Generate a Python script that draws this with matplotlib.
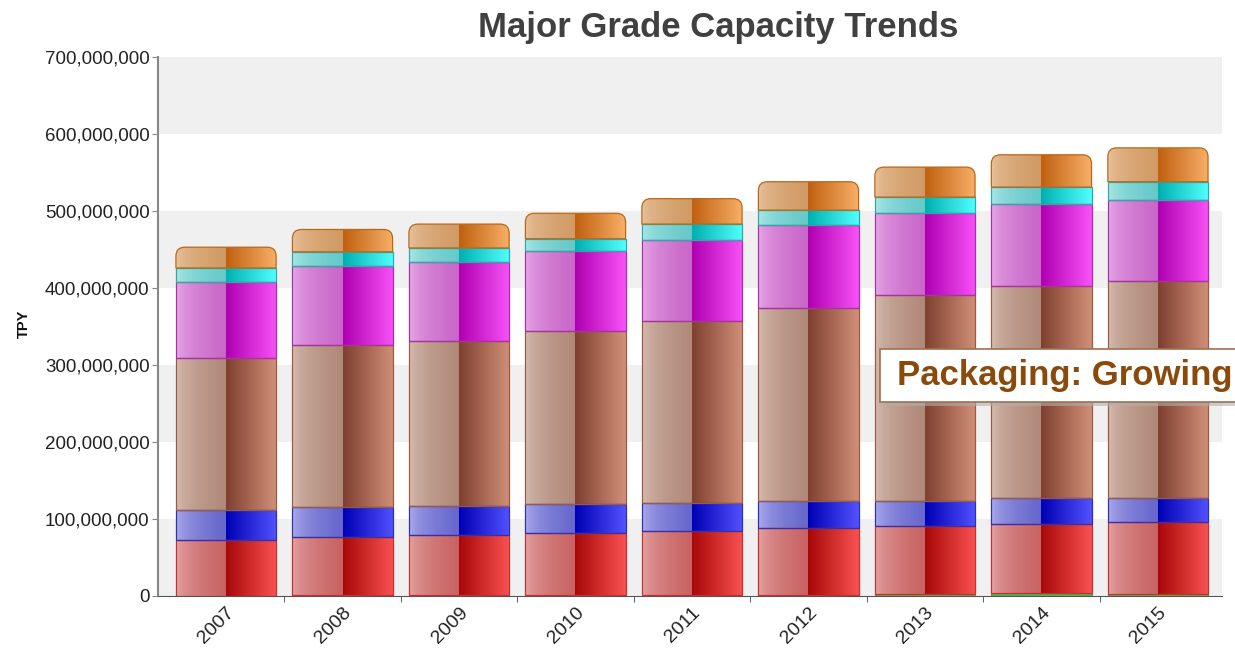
import numpy as np
import matplotlib
matplotlib.use('Agg')
import matplotlib.pyplot as plt
from matplotlib.path import Path
from matplotlib.patches import PathPatch, Rectangle
from matplotlib.colors import to_rgb
from matplotlib.ticker import FuncFormatter
import matplotlib.transforms as mtransforms

plt.rcParams['font.family'] = ['Liberation Sans', 'DejaVu Sans']

years = ['2007', '2008', '2009', '2010', '2011', '2012', '2013', '2014', '2015']

# segment sizes, millions of tons per year (bottom to top)
green = [0.5, 0.8, 0.8, 1.0, 1.0, 1.5, 2.5, 4.0, 2.5]
red = [72.5, 76.2, 78.2, 81, 83, 86.5, 88.5, 90, 93.5]
blue = [39, 39, 38, 38, 37, 35, 32, 33, 31]
brown = [197, 210, 214, 224, 236, 251, 268, 276, 282]
magenta = [99, 102, 103, 104, 105, 108, 106, 106, 105]
cyan = [18, 19, 18, 16, 21, 19, 21, 22, 24]
orange = [27, 29, 31, 33, 33, 37, 39, 42, 44]

# left edge, left middle, right middle, right edge, outline
styles = [
    ('#e8b0b0', '#c86262', '#a80808', '#fa5252', '#c83030'),
    ('#b8b8f2', '#6666cc', '#0000b4', '#5252ff', '#3030b0'),
    ('#dcc6ba', '#b08878', '#804030', '#d09078', '#9a5a44'),
    ('#ecb4ec', '#c866c8', '#b000b0', '#f852f8', '#a830a8'),
    ('#b6ecec', '#66c8c8', '#00b0b0', '#52ffff', '#30a8a8'),
    ('#ecc8a4', '#d09a64', '#c06010', '#f8b068', '#b86818'),
]
series = [red, blue, brown, magenta, cyan, orange]

fig = plt.figure(figsize=(12.35, 6.49), dpi=100)
ax = fig.add_axes([158 / 1235, 53 / 649, 1064 / 1235, 539 / 649])

M = 1e6
ax.set_xlim(-0.584, 8.55)
ax.set_ylim(0, 700 * M)

for k in range(0, 7, 2):
    ax.axhspan(k * 100 * M, (k + 1) * 100 * M, color='#f0f0f0', zorder=0, lw=0)

# pixel -> data sizes for rounded tops
p0 = ax.transData.inverted().transform((0, 0))
p1 = ax.transData.inverted().transform((9, 9))
rx, ry = p1[0] - p0[0], p1[1] - p0[1]


def grad(c0, c1, power=1.0, n=64):
    t = np.linspace(0, 1, n) ** power
    a, b = np.array(to_rgb(c0)), np.array(to_rgb(c1))
    return (a[None, :] * (1 - t[:, None]) + b[None, :] * t[:, None])[None, :, :]


w = 0.86
for i in range(len(years)):
    x0, xc, x1 = i - w / 2, i, i + w / 2
    ax.add_patch(Rectangle((x0, 0), w, green[i] * M, facecolor='#50b050',
                           edgecolor='#40a040', lw=0.8, zorder=3))
    bottom = green[i] * M
    for s, vals in enumerate(series):
        h = vals[i] * M
        top = bottom + h
        le, lm, rm, re, ec = styles[s]
        if s == len(series) - 1:
            verts = [(x0, bottom), (x1, bottom), (x1, top - ry), (x1, top),
                     (x1 - rx, top), (x0 + rx, top), (x0, top), (x0, top - ry),
                     (x0, bottom)]
            codes = [Path.MOVETO, Path.LINETO, Path.LINETO, Path.CURVE3,
                     Path.CURVE3, Path.LINETO, Path.CURVE3, Path.CURVE3,
                     Path.CLOSEPOLY]
            outline = PathPatch(Path(verts, codes), facecolor='none',
                                edgecolor=ec, lw=0.9, zorder=5)
        else:
            outline = Rectangle((x0, bottom), w, h, facecolor='none',
                                edgecolor=ec, lw=0.9, zorder=5)
        ax.add_patch(outline)
        im1 = ax.imshow(grad(le, lm, 0.45), extent=[x0, xc, bottom, top],
                        aspect='auto', interpolation='bilinear', zorder=4)
        im2 = ax.imshow(grad(rm, re, 1.0), extent=[xc, x1, bottom, top],
                        aspect='auto', interpolation='bilinear', zorder=4)
        if s == len(series) - 1:
            im1.set_clip_path(outline)
            im2.set_clip_path(outline)
        bottom = top

ax.set_xlim(-0.584, 8.55)
ax.set_ylim(0, 700 * M)

ax.yaxis.set_major_locator(plt.MultipleLocator(100 * M))
ax.yaxis.set_major_formatter(FuncFormatter(lambda v, p: f'{v:,.0f}'))
ax.tick_params(axis='y', labelsize=13.5, length=4, color='#888888',
               labelcolor='#222222', pad=2)

ax.set_xticks(range(len(years)))
ax.set_xticklabels(years, rotation=45, ha='right', va='top',
                   rotation_mode='anchor', fontsize=14, color='#222222')
shift = mtransforms.ScaledTranslation(14 / 100, -4 / 100, fig.dpi_scale_trans)
for lbl in ax.get_xticklabels():
    lbl.set_transform(lbl.get_transform() + shift)
ax.set_xticks(np.arange(0.5, 8.0, 1.0), minor=True)
ax.tick_params(axis='x', which='major', length=0, pad=6)
ax.tick_params(axis='x', which='minor', length=4, color='#444444')

for side in ['top', 'right']:
    ax.spines[side].set_visible(False)
ax.spines['left'].set_color('#888888')
ax.spines['left'].set_linewidth(1.5)
ax.spines['bottom'].set_color('#555555')

fig.text(24 / 1235, 1 - 324 / 649, 'TPY', rotation=90, fontsize=10.5,
         fontweight='bold', ha='center', va='center', color='#111111')

fig.text(718 / 1235, 1 - 28 / 649, 'Major Grade Capacity Trends',
         fontsize=25, fontweight='bold', color='#404040',
         ha='center', va='center')

# callout box
fig.patches.append(Rectangle((884 / 1235, 1 - 406 / 649), 360 / 1235, 53 / 649,
                             transform=fig.transFigure, facecolor='#b0b0b0',
                             edgecolor='none', alpha=0.6, zorder=9))
fig.patches.append(Rectangle((880 / 1235, 1 - 402 / 649), 360 / 1235, 53 / 649,
                             transform=fig.transFigure, facecolor='white',
                             edgecolor='#a07050', lw=1.2, zorder=10))
fig.text(897 / 1235, 1 - 376 / 649, 'Packaging: Growing', fontsize=25,
         fontweight='bold', color='#8a4a0c', ha='left', va='center', zorder=11)

fig.savefig('out.png', dpi=100)
